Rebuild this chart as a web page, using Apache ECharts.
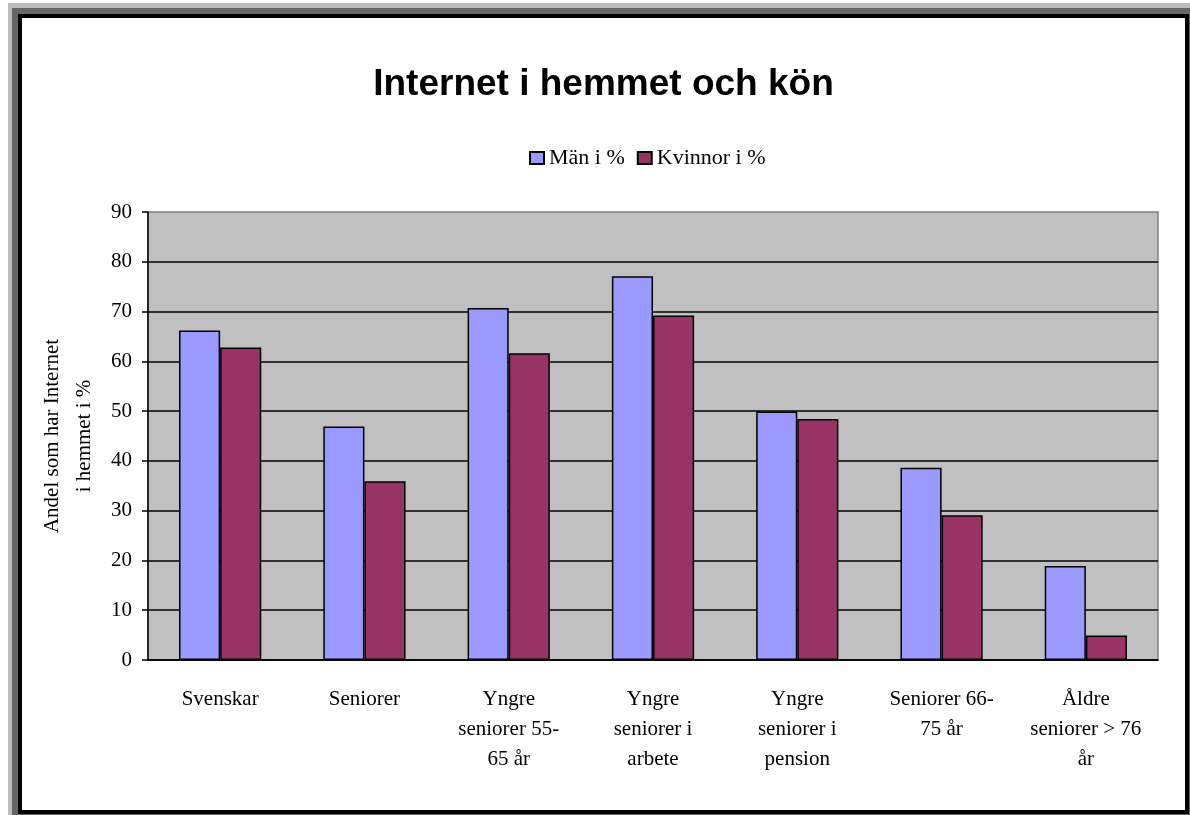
<!DOCTYPE html>
<html>
<head>
<meta charset="utf-8">
<script src="https://cdn.jsdelivr.net/npm/echarts@6/dist/echarts.min.js"></script>
<style>
  html, body { margin: 0; padding: 0; background: #fff; }
  .layer { position: absolute; }
</style>
</head>
<body>
<div class="layer" style="left:8px;top:3px;width:1182px;height:812px;background:#bbbbbb"></div>
<div class="layer" style="left:12px;top:8px;width:1178px;height:807px;background:#666666"></div>
<div class="layer" style="left:18px;top:14px;width:1171px;height:800px;background:#000000"></div>
<div id="main" class="layer" style="left:22px;top:18px;width:1163px;height:792px;background:#ffffff"></div>
<script>
var categories = [
  "Svenskar",
  "Seniorer",
  "Yngre\nseniorer 55-\n65 år",
  "Yngre\nseniorer i\narbete",
  "Yngre\nseniorer i\npension",
  "Seniorer 66-\n75 år",
  "Åldre\nseniorer > 76\når"
];
var man = [66.2, 46.9, 70.7, 77.1, 49.9, 38.6, 18.9];
var kvinnor = [62.8, 35.9, 61.6, 69.2, 48.4, 29.1, 4.9];
var yTicks = { min: 0, max: 90, interval: 10 };

var serif = "'Liberation Serif', 'Times New Roman', serif";
var chart = echarts.init(document.getElementById("main"));
var option = {
  animation: false,
  title: {
    text: "Internet i hemmet och kön",
    left: "center",
    top: 43,
    textStyle: {
      fontFamily: "'Liberation Sans', Arial, sans-serif",
      fontWeight: "bold",
      fontSize: 37,
      color: "#000"
    }
  },
  legend: {
    left: 502,
    top: 124,
    itemWidth: 14,
    itemHeight: 12,
    itemGap: 12,
    icon: "rect",
    textStyle: { fontFamily: serif, fontSize: 22, color: "#000" },
    data: ["Män i %", "Kvinnor i %"]
  },
  grid: {
    left: 126,
    right: 27,
    top: 194,
    bottom: 150,
    outerBoundsMode: "none",
    containLabel: false,
    show: true,
    backgroundColor: "#c0c0c0",
    borderColor: "#808080",
    borderWidth: 1.5
  },
  xAxis: {
    type: "category",
    data: categories,
    axisLine: { lineStyle: { color: "#000", width: 1.5 } },
    axisTick: { length: 6, lineStyle: { color: "#000", width: 1.5 } },
    axisLabel: {
      interval: 0,
      margin: 24,
      fontFamily: serif,
      fontSize: 21,
      lineHeight: 30,
      color: "#000"
    }
  },
  yAxis: {
    type: "value",
    min: yTicks.min,
    max: yTicks.max,
    interval: yTicks.interval,
    name: "Andel som har Internet\ni hemmet i %",
    nameLocation: "middle",
    nameGap: 47,
    nameRotate: 90,
    nameTextStyle: { fontFamily: serif, fontSize: 21, lineHeight: 32, color: "#000" },
    axisLine: { show: true, lineStyle: { color: "#000", width: 1.5 } },
    axisTick: { show: true, length: 6, lineStyle: { color: "#000", width: 1.5 } },
    axisLabel: { margin: 16, fontFamily: serif, fontSize: 21, color: "#000" },
    splitLine: { show: true, showMaxLine: false, lineStyle: { color: "#000", width: 1.5 } }
  },
  series: [
    {
      name: "Män i %",
      type: "bar",
      data: man,
      barGap: "0%",
      barCategoryGap: "43%",
      itemStyle: { color: "#9999ff", borderColor: "#000", borderWidth: 1.5 }
    },
    {
      name: "Kvinnor i %",
      type: "bar",
      data: kvinnor,
      barGap: "0%",
      barCategoryGap: "43%",
      itemStyle: { color: "#993366", borderColor: "#000", borderWidth: 1.5 }
    }
  ]
};
chart.setOption(option);
</script>
</body>
</html>
